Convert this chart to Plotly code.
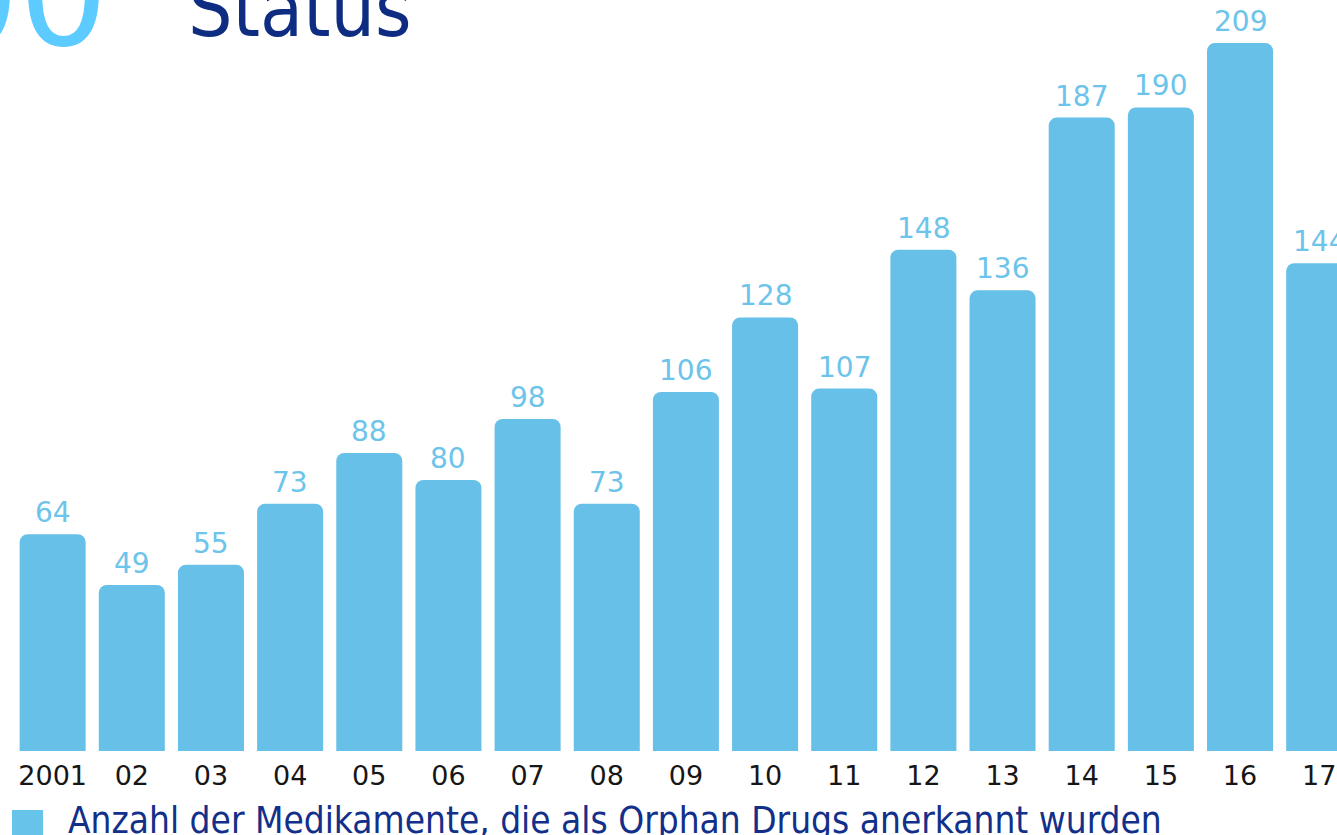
import plotly.graph_objects as go

years = ["2001", "02", "03", "04", "05", "06", "07", "08", "09", "10",
         "11", "12", "13", "14", "15", "16", "17"]
counts = [64, 49, 55, 73, 88, 80, 98, 73, 106, 128, 107, 148, 136, 187, 190, 209, 144]
legend_text = "Anzahl der Medikamente, die als Orphan Drugs anerkannt wurden"
title_text = "Status"
big_number_text = "00"

BAR = "#67C0E7"
LABEL = "#6CC4EA"
NAVY = "#12308A"
W, H = 1337, 835
PLOT_BOTTOM = 751  # pixel of value 0

def py(p):
    return (PLOT_BOTTOM - p) / PLOT_BOTTOM

fig = go.Figure()
fig.add_trace(go.Bar(
    x=years, y=counts,
    marker=dict(color=BAR, line=dict(width=0)),
    showlegend=False,
    cliponaxis=False,
))

# value labels above bars (category index positions)
for i, v in enumerate(counts):
    fig.add_annotation(x=i, y=v, text=str(v), xref="x", yref="y",
                       showarrow=False, yanchor="bottom", yshift=3,
                       font=dict(family="DejaVu Sans", size=28, color=LABEL))

fig.update_layout(
    width=W, height=H,
    margin=dict(l=0, r=0, t=0, b=H - PLOT_BOTTOM, pad=0),
    paper_bgcolor="white", plot_bgcolor="white",
    bargap=0.166,
    barcornerradius=8,
    xaxis=dict(type="category", range=[-0.665, 16.225], showgrid=False,
               showline=False, zeroline=False, ticks="",
               ticklabelstandoff=6,
               tickfont=dict(family="DejaVu Sans", size=27, color="#161616"),
               fixedrange=True),
    yaxis=dict(range=[0, 221.7], visible=False, fixedrange=True),
)

# title fragments at top
fig.add_annotation(text=title_text, xref="paper", yref="paper",
                   x=186 / W, y=py(56), xanchor="left", yanchor="bottom",
                   showarrow=False,
                   font=dict(family="DejaVu Sans Condensed, DejaVu Sans", size=78, color="#0E2D82"))
fig.add_annotation(text=big_number_text, xref="paper", yref="paper",
                   x=110 / W, y=py(80), xanchor="right", yanchor="bottom",
                   showarrow=False,
                   font=dict(family="DejaVu Sans", size=140, color="#5CCBFF"))

# legend
fig.add_shape(type="rect", xref="paper", yref="paper",
              x0=12 / W, x1=43 / W, y0=py(845), y1=py(810),
              fillcolor="#66C3EA", line=dict(width=0), layer="above")
fig.add_annotation(text=legend_text, xref="paper", yref="paper",
                   x=66 / W, y=py(797), xanchor="left", yanchor="top",
                   showarrow=False,
                   font=dict(family="DejaVu Sans Condensed, DejaVu Sans", size=36.7, color=NAVY))

fig.write_html("out.html")
